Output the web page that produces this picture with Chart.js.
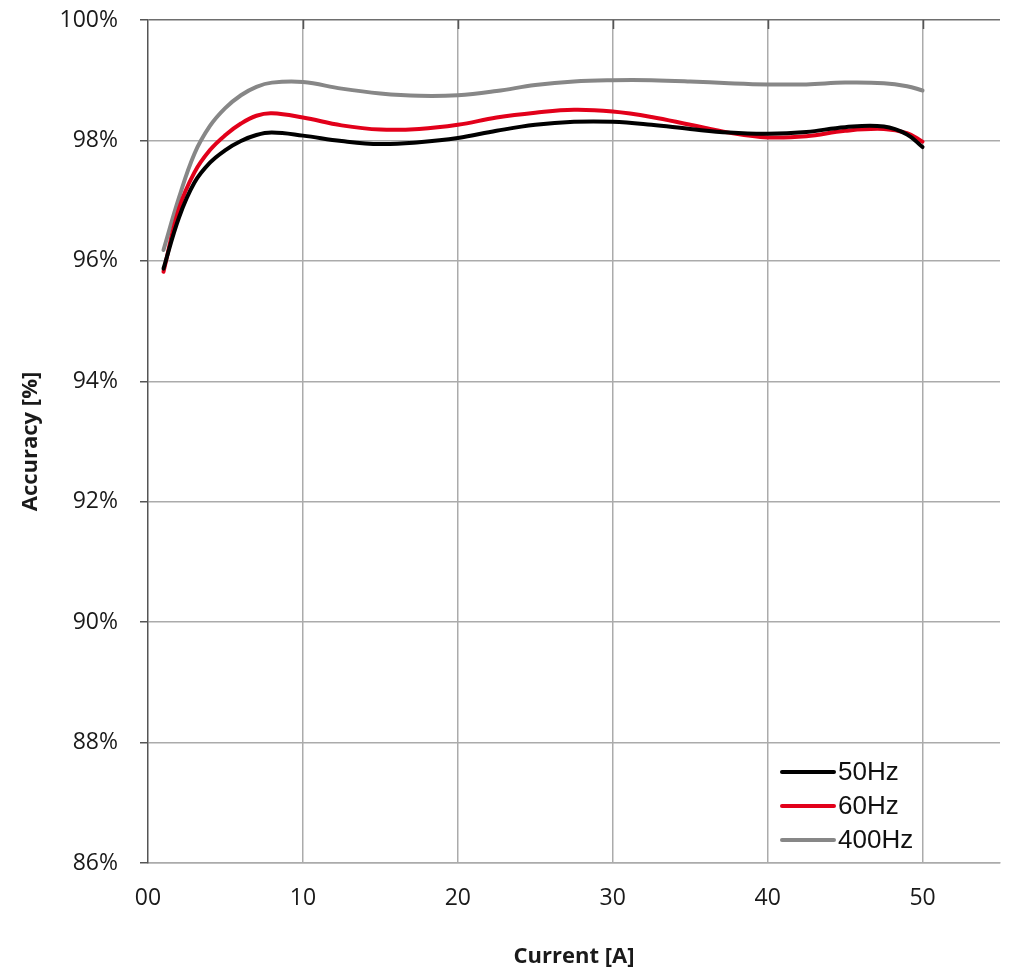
<!DOCTYPE html>
<html>
<head>
<meta charset="utf-8">
<script src="https://cdn.jsdelivr.net/npm/chart.js@4.4.1/dist/chart.umd.min.js"></script>
<style>
  html, body { margin: 0; padding: 0; background: #ffffff; }
  #wrap { width: 1011px; height: 970px; }
</style>
</head>
<body>
<div id="wrap"><canvas id="c" width="1011" height="970"></canvas></div>
<script>
// ---- data ----
const currents = [1, 2, 3, 4, 5, 6, 7, 8, 10, 12.5, 15, 17.5, 20, 22.5, 25, 27.5, 30, 32.5, 35, 37.5, 40, 42.5, 45, 47.5, 49, 50];
const acc50Hz  = [95.87, 96.72, 97.30, 97.63, 97.84, 97.99, 98.09, 98.13, 98.08, 97.99, 97.94, 97.97, 98.04, 98.16, 98.26, 98.31, 98.31, 98.26, 98.19, 98.13, 98.11, 98.14, 98.22, 98.23, 98.10, 97.89];
const acc60Hz  = [95.82, 96.87, 97.47, 97.84, 98.09, 98.28, 98.41, 98.45, 98.38, 98.25, 98.18, 98.19, 98.26, 98.38, 98.46, 98.51, 98.48, 98.39, 98.26, 98.13, 98.05, 98.07, 98.16, 98.19, 98.12, 97.98];
const acc400Hz = [96.18, 97.05, 97.78, 98.24, 98.54, 98.75, 98.89, 98.96, 98.97, 98.86, 98.78, 98.74, 98.75, 98.82, 98.92, 98.98, 99.00, 99.00, 98.98, 98.95, 98.93, 98.93, 98.96, 98.95, 98.90, 98.83];
const seriesNames = ['50Hz', '60Hz', '400Hz'];
const seriesColors = ['#000000', '#e2001a', '#878787'];
const xTickValues = [0, 10, 20, 30, 40, 50];
const xTickLabels = ['00', '10', '20', '30', '40', '50'];
const yTickValues = [86, 88, 90, 92, 94, 96, 98, 100];
const xTitle = 'Current [A]';
const yTitle = 'Accuracy [%]';

function toPoints(ys) { return currents.map((x, i) => ({ x: x, y: ys[i] })); }
const allSeries = [acc50Hz, acc60Hz, acc400Hz];

const overlay = {
  id: 'overlay',
  afterDraw(chart) {
    const ctx = chart.ctx;
    const xs = chart.scales.x;
    const area = chart.chartArea;
    ctx.save();
    // short inward tick marks along the top edge
    ctx.strokeStyle = '#555555';
    ctx.lineWidth = 1.5;
    xTickValues.forEach(v => {
      if (v === 0) return;
      const px = Math.round(xs.getPixelForValue(v)) + 0.5;
      ctx.beginPath();
      ctx.moveTo(px, area.top);
      ctx.lineTo(px, area.top + 9);
      ctx.stroke();
    });
    // legend inside the plot, bottom right
    const lx = area.right - 218;
    const ly = area.bottom - 91;
    ctx.font = '26px "Liberation Sans", Arial, sans-serif';
    ctx.textBaseline = 'middle';
    ctx.textAlign = 'left';
    chart.data.datasets.forEach((ds, i) => {
      const y = ly + i * 34;
      ctx.strokeStyle = ds.borderColor;
      ctx.lineWidth = 4;
      ctx.lineCap = 'round';
      ctx.beginPath();
      ctx.moveTo(lx, y);
      ctx.lineTo(lx + 52, y);
      ctx.stroke();
      ctx.fillStyle = '#111111';
      ctx.fillText(ds.label, lx + 56, y + 1);
    });
    ctx.restore();
  }
};

new Chart(document.getElementById('c'), {
  type: 'line',
  data: {
    datasets: allSeries.map((ys, i) => ({
      label: seriesNames[i],
      data: toPoints(ys),
      borderColor: seriesColors[i],
      backgroundColor: seriesColors[i],
      borderWidth: 4,
      pointRadius: 0,
      tension: 0.4,
      borderCapStyle: 'round',
      borderJoinStyle: 'round',
      fill: false
    }))
  },
  options: {
    responsive: false,
    animation: false,
    devicePixelRatio: 1,
    layout: { padding: { top: 20, right: 11, left: 0, bottom: 0 } },
    plugins: { legend: { display: false }, tooltip: { enabled: false } },
    scales: {
      x: {
        type: 'linear',
        min: 0,
        max: 55,
        afterBuildTicks: s => { s.ticks = xTickValues.map(v => ({ value: v })); },
        afterFit: s => { s.height = 107; s.paddingLeft = 0; s.paddingRight = 0; s.paddingTop = 0; s.paddingBottom = 0; },
        ticks: {
          callback: (v) => { const k = xTickValues.indexOf(v); return k >= 0 ? xTickLabels[k] : ''; },
          font: { family: '"Open Sans", sans-serif', size: 23 },
          color: '#1a1a1a',
          padding: 22,
          maxRotation: 0
        },
        grid: {
          color: ctx => (ctx.tick && ctx.tick.value === 0) ? 'rgba(0,0,0,0)' : '#ababab',
          lineWidth: 1.5,
          drawTicks: false
        },
        border: { color: '#ababab', width: 1.5 },
        title: {
          display: true,
          text: xTitle,
          font: { family: '"Open Sans", sans-serif', size: 22, weight: 'bold' },
          color: '#1a1a1a',
          padding: { top: 10, bottom: 0 }
        }
      },
      y: {
        min: 86,
        max: 100,
        afterBuildTicks: s => { s.ticks = yTickValues.map(v => ({ value: v })); },
        afterFit: s => { s.width = 148; s.paddingTop = 0; s.paddingBottom = 0; s.paddingLeft = 0; s.paddingRight = 0; },
        ticks: {
          callback: v => v + '%',
          font: { family: '"Open Sans", sans-serif', size: 23 },
          color: '#1a1a1a',
          padding: 22
        },
        grid: {
          color: ctx => (ctx.tick && ctx.tick.value === 100) ? '#6e6e6e' : '#ababab',
          tickColor: '#555555',
          lineWidth: 1.5,
          tickLength: 8
        },
        border: { color: '#555555', width: 1.5 },
        title: {
          display: true,
          text: yTitle,
          font: { family: '"Open Sans", sans-serif', size: 22, weight: 'bold' },
          color: '#1a1a1a',
          padding: { top: 18, bottom: 0 }
        }
      }
    }
  },
  plugins: [overlay]
});
</script>
</body>
</html>
